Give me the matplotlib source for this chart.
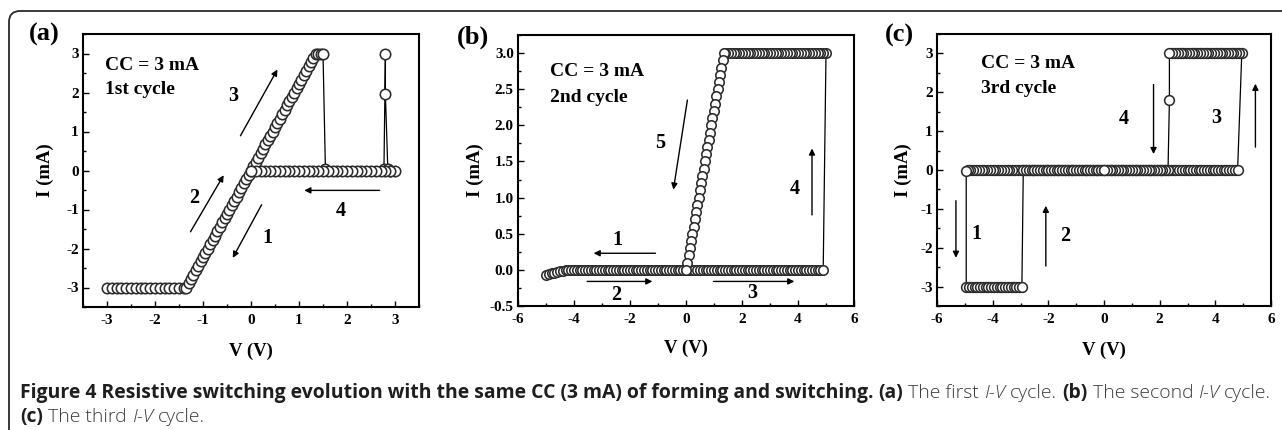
import matplotlib
matplotlib.use('Agg')
import matplotlib.pyplot as plt
from matplotlib.patches import FancyBboxPatch
from matplotlib.transforms import IdentityTransform
from matplotlib.ticker import MultipleLocator

# ---------------- data ----------------
# (a) 1st cycle, sweep order: negative branch, up-sweep with set/reset, back-sweep
va_neg = [-3.0, -2.9, -2.8, -2.7, -2.6, -2.5, -2.4, -2.3, -2.2, -2.1,
          -2.0, -1.9, -1.8, -1.7, -1.6, -1.5, -1.4,
          -1.35, -1.3, -1.25, -1.2, -1.15, -1.1, -1.05, -1.0, -0.95, -0.9,
          -0.85, -0.8, -0.75, -0.7, -0.65, -0.6, -0.55, -0.5, -0.45, -0.4,
          -0.35, -0.3, -0.25, -0.2, -0.15, -0.1, -0.05, 0.0]
ia_neg = [-3.0, -3.0, -3.0, -3.0, -3.0, -3.0, -3.0, -3.0, -3.0, -3.0,
          -3.0, -3.0, -3.0, -3.0, -3.0, -3.0, -3.0,
          -3.0, -2.89, -2.78, -2.67, -2.56, -2.44, -2.33, -2.22, -2.11, -2.0,
          -1.89, -1.78, -1.67, -1.56, -1.44, -1.33, -1.22, -1.11, -1.0, -0.89,
          -0.78, -0.67, -0.56, -0.44, -0.33, -0.22, -0.11, 0.0]
va_up = [0.05, 0.1, 0.15, 0.2, 0.25, 0.3, 0.35, 0.4, 0.45, 0.5,
         0.55, 0.6, 0.65, 0.7, 0.75, 0.8, 0.85, 0.9, 0.95, 1.0,
         1.05, 1.1, 1.15, 1.2, 1.25, 1.3, 1.35, 1.4, 1.45, 1.5,
         1.55, 2.77, 2.8, 2.8, 2.85, 2.9]
ia_up = [0.11, 0.22, 0.33, 0.44, 0.56, 0.67, 0.78, 0.89, 1.0, 1.11,
         1.22, 1.33, 1.44, 1.56, 1.67, 1.78, 1.89, 2.0, 2.11, 2.22,
         2.33, 2.44, 2.56, 2.67, 2.78, 2.89, 3.0, 3.0, 3.0, 3.0,
         0.05, 0.05, 3.0, 1.95, 0.05, 0.0]
va_back = [3.0, 2.9, 2.8, 2.7, 2.6, 2.5, 2.4, 2.3, 2.2, 2.1,
           2.0, 1.9, 1.8, 1.7, 1.6, 1.5, 1.4, 1.3, 1.2, 1.1,
           1.0, 0.9, 0.8, 0.7, 0.6, 0.5, 0.4, 0.3, 0.2, 0.1, 0.0]
ia_back = [0.0, 0.0, 0.0, 0.0, 0.0, 0.0, 0.0, 0.0, 0.0, 0.0,
           0.0, 0.0, 0.0, 0.0, 0.0, 0.0, 0.0, 0.0, 0.0, 0.0,
           0.0, 0.0, 0.0, 0.0, 0.0, 0.0, 0.0, 0.0, 0.0, 0.0, 0.0]

# (b) 2nd cycle
vb_neg = [-5.0, -4.9, -4.8, -4.7, -4.6, -4.5, -4.4, -4.3, -4.2, -4.1,
          -4.0, -3.9, -3.8, -3.7, -3.6, -3.5, -3.4, -3.3, -3.2, -3.1,
          -3.0, -2.9, -2.8, -2.7, -2.6, -2.5, -2.4, -2.3, -2.2, -2.1,
          -2.0, -1.9, -1.8, -1.7, -1.6, -1.5, -1.4, -1.3, -1.2, -1.1,
          -1.0, -0.9, -0.8, -0.7, -0.6, -0.5, -0.4, -0.3, -0.2, -0.1, 0.0]
ib_neg = [-0.07, -0.06, -0.05, -0.04, -0.03, -0.02, -0.01, 0.0, 0.0, 0.0,
          0.0, 0.0, 0.0, 0.0, 0.0, 0.0, 0.0, 0.0, 0.0, 0.0,
          0.0, 0.0, 0.0, 0.0, 0.0, 0.0, 0.0, 0.0, 0.0, 0.0,
          0.0, 0.0, 0.0, 0.0, 0.0, 0.0, 0.0, 0.0, 0.0, 0.0,
          0.0, 0.0, 0.0, 0.0, 0.0, 0.0, 0.0, 0.0, 0.0, 0.0, 0.0]
vb_pos = [0.1, 0.2, 0.3, 0.4, 0.5, 0.6, 0.7, 0.8, 0.9, 1.0,
          1.1, 1.2, 1.3, 1.4, 1.5, 1.6, 1.7, 1.8, 1.9, 2.0,
          2.1, 2.2, 2.3, 2.4, 2.5, 2.6, 2.7, 2.8, 2.9, 3.0,
          3.1, 3.2, 3.3, 3.4, 3.5, 3.6, 3.7, 3.8, 3.9, 4.0,
          4.1, 4.2, 4.3, 4.4, 4.5, 4.6, 4.7, 4.8, 4.9]
ib_pos = [0.0, 0.0, 0.0, 0.0, 0.0, 0.0, 0.0, 0.0, 0.0, 0.0,
          0.0, 0.0, 0.0, 0.0, 0.0, 0.0, 0.0, 0.0, 0.0, 0.0,
          0.0, 0.0, 0.0, 0.0, 0.0, 0.0, 0.0, 0.0, 0.0, 0.0,
          0.0, 0.0, 0.0, 0.0, 0.0, 0.0, 0.0, 0.0, 0.0, 0.0,
          0.0, 0.0, 0.0, 0.0, 0.0, 0.0, 0.0, 0.0, 0.0]
vb_top = [5.0, 4.9, 4.8, 4.7, 4.6, 4.5, 4.4, 4.3, 4.2, 4.1,
          4.0, 3.9, 3.8, 3.7, 3.6, 3.5, 3.4, 3.3, 3.2, 3.1,
          3.0, 2.9, 2.8, 2.7, 2.6, 2.5, 2.4, 2.3, 2.2, 2.1,
          2.0, 1.9, 1.8, 1.7, 1.6, 1.5, 1.4]
ib_top = [3.0, 3.0, 3.0, 3.0, 3.0, 3.0, 3.0, 3.0, 3.0, 3.0,
          3.0, 3.0, 3.0, 3.0, 3.0, 3.0, 3.0, 3.0, 3.0, 3.0,
          3.0, 3.0, 3.0, 3.0, 3.0, 3.0, 3.0, 3.0, 3.0, 3.0,
          3.0, 3.0, 3.0, 3.0, 3.0, 3.0, 3.0]
vb_diag = [1.35, 1.305, 1.26, 1.215, 1.17, 1.125, 1.08, 1.035, 0.99, 0.945,
           0.9, 0.855, 0.81, 0.765, 0.72, 0.675, 0.63, 0.585, 0.54, 0.495,
           0.45, 0.405, 0.36, 0.315, 0.27, 0.225, 0.18, 0.135, 0.09, 0.045, 0.0]
ib_diag = [3.0, 2.9, 2.8, 2.7, 2.6, 2.5, 2.4, 2.3, 2.2, 2.1,
           2.0, 1.9, 1.8, 1.7, 1.6, 1.5, 1.4, 1.3, 1.2, 1.1,
           1.0, 0.9, 0.8, 0.7, 0.6, 0.5, 0.4, 0.3, 0.2, 0.1, 0.0]

# (c) 3rd cycle
vc_s1 = [0.0, -0.1, -0.2, -0.3, -0.4, -0.5, -0.6, -0.7, -0.8, -0.9,
         -1.0, -1.1, -1.2, -1.3, -1.4, -1.5, -1.6, -1.7, -1.8, -1.9,
         -2.0, -2.1, -2.2, -2.3, -2.4, -2.5, -2.6, -2.7, -2.8, -2.9,
         -3.0, -3.1, -3.2, -3.3, -3.4, -3.5, -3.6, -3.7, -3.8, -3.9,
         -4.0, -4.1, -4.2, -4.3, -4.4, -4.5, -4.6, -4.7, -4.8, -4.9, -4.95]
ic_s1 = [0.0, 0.0, 0.0, 0.0, 0.0, 0.0, 0.0, 0.0, 0.0, 0.0,
         0.0, 0.0, 0.0, 0.0, 0.0, 0.0, 0.0, 0.0, 0.0, 0.0,
         0.0, 0.0, 0.0, 0.0, 0.0, 0.0, 0.0, 0.0, 0.0, 0.0,
         0.0, 0.0, 0.0, 0.0, 0.0, 0.0, 0.0, 0.0, 0.0, 0.0,
         0.0, 0.0, 0.0, 0.0, 0.0, 0.0, 0.0, 0.0, 0.0, 0.0, -0.03]
vc_low = [-4.95, -4.85, -4.75, -4.65, -4.55, -4.45, -4.35, -4.25, -4.15, -4.05,
          -3.95, -3.85, -3.75, -3.65, -3.55, -3.45, -3.35, -3.25, -3.15, -3.05, -2.95]
ic_low = [-3.0, -3.0, -3.0, -3.0, -3.0, -3.0, -3.0, -3.0, -3.0, -3.0,
          -3.0, -3.0, -3.0, -3.0, -3.0, -3.0, -3.0, -3.0, -3.0, -3.0, -3.0]
vc_s2 = [-2.9, -2.8, -2.7, -2.6, -2.5, -2.4, -2.3, -2.2, -2.1, -2.0,
         -1.9, -1.8, -1.7, -1.6, -1.5, -1.4, -1.3, -1.2, -1.1, -1.0,
         -0.9, -0.8, -0.7, -0.6, -0.5, -0.4, -0.3, -0.2, -0.1, 0.0]
ic_s2 = [0.0, 0.0, 0.0, 0.0, 0.0, 0.0, 0.0, 0.0, 0.0, 0.0,
         0.0, 0.0, 0.0, 0.0, 0.0, 0.0, 0.0, 0.0, 0.0, 0.0,
         0.0, 0.0, 0.0, 0.0, 0.0, 0.0, 0.0, 0.0, 0.0, 0.0]
vc_s3 = [0.1, 0.2, 0.3, 0.4, 0.5, 0.6, 0.7, 0.8, 0.9, 1.0,
         1.1, 1.2, 1.3, 1.4, 1.5, 1.6, 1.7, 1.8, 1.9, 2.0,
         2.1, 2.2, 2.3, 2.4, 2.5, 2.6, 2.7, 2.8, 2.9, 3.0,
         3.1, 3.2, 3.3, 3.4, 3.5, 3.6, 3.7, 3.8, 3.9, 4.0,
         4.1, 4.2, 4.3, 4.4, 4.5, 4.6, 4.7, 4.8]
ic_s3 = [0.0, 0.0, 0.0, 0.0, 0.0, 0.0, 0.0, 0.0, 0.0, 0.0,
         0.0, 0.0, 0.0, 0.0, 0.0, 0.0, 0.0, 0.0, 0.0, 0.0,
         0.0, 0.0, 0.0, 0.0, 0.0, 0.0, 0.0, 0.0, 0.0, 0.0,
         0.0, 0.0, 0.0, 0.0, 0.0, 0.0, 0.0, 0.0, 0.0, 0.0,
         0.0, 0.0, 0.0, 0.0, 0.0, 0.0, 0.0, 0.0]
vc_high = [4.95, 4.85, 4.75, 4.65, 4.55, 4.45, 4.35, 4.25, 4.15, 4.05,
           3.95, 3.85, 3.75, 3.65, 3.55, 3.45, 3.35, 3.25, 3.15, 3.05,
           2.95, 2.85, 2.75, 2.65, 2.55, 2.45, 2.35]
ic_high = [3.0, 3.0, 3.0, 3.0, 3.0, 3.0, 3.0, 3.0, 3.0, 3.0,
           3.0, 3.0, 3.0, 3.0, 3.0, 3.0, 3.0, 3.0, 3.0, 3.0,
           3.0, 3.0, 3.0, 3.0, 3.0, 3.0, 3.0]
vc_s4 = [2.35, 2.3, 2.2, 2.1, 2.0, 1.9, 1.8, 1.7, 1.6, 1.5, 1.4,
         1.3, 1.2, 1.1, 1.0, 0.9, 0.8, 0.7, 0.6, 0.5, 0.4, 0.3, 0.2, 0.1, 0.0]
ic_s4 = [1.8, 0.0, 0.0, 0.0, 0.0, 0.0, 0.0, 0.0, 0.0, 0.0, 0.0,
         0.0, 0.0, 0.0, 0.0, 0.0, 0.0, 0.0, 0.0, 0.0, 0.0, 0.0, 0.0, 0.0, 0.0]

# panel texts and sweep arrows (start, end, label, label position)
cycles = ['1st cycle', '2nd cycle', '3rd cycle']
arrows_a = [((-0.22, 0.89), (0.55, 2.59), '3', (-0.38, 1.92)),
            ((-1.26, -1.57), (-0.57, -0.12), '2', (-1.19, -0.71)),
            ((0.22, -0.88), (-0.38, -2.24), '1', (0.34, -1.74)),
            ((2.68, -0.51), (1.11, -0.51), '4', (1.87, -1.05))]
arrows_b = [((-1.09, 0.23), (-3.3, 0.23), '1', (-2.44, 0.41)),
            ((-3.53, -0.16), (-1.2, -0.16), '2', (-2.5, -0.35)),
            ((0.98, -0.16), (3.87, -0.16), '3', (2.38, -0.32)),
            ((4.5, 0.76), (4.5, 1.68), '4', (3.9, 1.12)),
            ((0.05, 2.35), (-0.45, 1.11), '5', (-0.93, 1.75))]
arrows_c = [((-5.32, -0.79), (-5.32, -2.26), '1', (-4.57, -1.65)),
            ((-2.09, -2.47), (-2.09, -0.92), '2', (-1.41, -1.7)),
            ((5.44, 0.59), (5.44, 2.22), '3', (4.05, 1.34)),
            ((1.78, 2.2), (1.78, 0.41), '4', (0.72, 1.32))]

SERIF = 'Liberation Serif'
CAP = ['Open Sans', 'DejaVu Sans']
plt.rcParams['font.family'] = SERIF
plt.rcParams['font.weight'] = 'bold'
plt.rcParams['axes.labelweight'] = 'bold'
plt.rcParams['axes.unicode_minus'] = False

W, H = 1282, 430
fig = plt.figure(figsize=(W / 100, H / 100), dpi=100)


def px_axes(l, t, r, b):
    return fig.add_axes([l / W, 1 - b / H, (r - l) / W, (b - t) / H])


def style(ax, xlim, ylim, xmaj, ymaj, ylab_x, xlab_y):
    ax.set_xlim(xlim)
    ax.set_ylim(ylim)
    ax.xaxis.set_major_locator(MultipleLocator(xmaj))
    ax.xaxis.set_minor_locator(MultipleLocator(xmaj / 2))
    ax.yaxis.set_major_locator(MultipleLocator(ymaj))
    ax.yaxis.set_minor_locator(MultipleLocator(ymaj / 2))
    ax.tick_params(which='both', direction='in', top=False, right=False,
                   width=1.0, labelsize=11, colors='black')
    ax.tick_params(which='major', length=4)
    ax.tick_params(which='minor', length=2.2)
    ax.tick_params(axis='x', pad=5)
    ax.tick_params(axis='y', pad=3)
    for sp in ax.spines.values():
        sp.set_linewidth(1.5)
    ax.set_xlabel('V (V)', fontsize=13.5)
    ax.set_ylabel('I (mA)', fontsize=13.5)
    ax.yaxis.set_label_coords(ylab_x, 0.5)
    ax.xaxis.set_label_coords(0.5, xlab_y)


def iv(ax, v, i, ms):
    ax.plot(v, i, '-o', color='black', lw=0.9, ms=ms, mfc='white',
            mec='#2c2c2c', mew=1.15)


def sweeps(ax, arrows, cycle, tx, ty):
    for start, end, lab, lpos in arrows:
        ax.annotate('', xy=end, xytext=start,
                    arrowprops=dict(arrowstyle='-|>', color='black', lw=1.0,
                                    mutation_scale=9, shrinkA=0, shrinkB=0))
        ax.text(lpos[0], lpos[1], lab, fontsize=14.5, ha='center', va='center')
    ax.text(tx, ty[0], 'CC = 3 mA', fontsize=14, ha='left', va='center')
    ax.text(tx, ty[1], cycle, fontsize=14, ha='left', va='center')


# (a)
ax1 = px_axes(83, 34, 419, 307)
iv(ax1, va_neg + va_up + va_back, ia_neg + ia_up + ia_back, 7.5)
style(ax1, (-3.5, 3.5), (-3.5, 3.5), 1, 1, -0.086, -0.132)
sweeps(ax1, arrows_a, cycles[0], -3.05, (2.7, 2.07))

# (b)
ax2 = px_axes(518, 35, 854, 306)
iv(ax2, vb_neg + vb_pos + vb_top + vb_diag, ib_neg + ib_pos + ib_top + ib_diag, 6.8)
style(ax2, (-6, 6), (-0.5, 3.25), 2, 0.5, -0.101, -0.125)
sweeps(ax2, arrows_b, cycles[1], -4.85, (2.74, 2.39))

# (c)
ax3 = px_axes(937, 34, 1271, 306)
iv(ax3, vc_s1 + vc_low + vc_s2 + vc_s3 + vc_high + vc_s4,
   ic_s1 + ic_low + ic_s2 + ic_s3 + ic_high + ic_s4, 7)
style(ax3, (-6, 6), (-3.5, 3.5), 2, 1, -0.075, -0.13)
sweeps(ax3, arrows_c, cycles[2], -4.43, (2.74, 2.09))

for lab, x, y in [('(a)', 44, 34), ('(b)', 473, 37), ('(c)', 899, 35)]:
    fig.text(x / W, 1 - y / H, lab, fontsize=19, ha='center', va='center')

# outer rounded frame
frame = FancyBboxPatch((9, -30), 1320, H - 11 + 30,
                       boxstyle='round,pad=0,rounding_size=11',
                       transform=IdentityTransform(), fill=False,
                       lw=1.3, ec='#2a2a2a')
fig.add_artist(frame)

# caption, written run by run
cap1 = [('Figure 4 Resistive switching evolution with the same CC (3 mA) of forming and switching.', 'bold', 'normal'),
        ('(a)', 'bold', 'normal'), ('The first', 'light', 'normal'), ('I-V', 'light', 'italic'),
        ('cycle.', 'light', 'normal'), ('(b)', 'bold', 'normal'), ('The second', 'light', 'normal'),
        ('I-V', 'light', 'italic'), ('cycle.', 'light', 'normal')]
cap2 = [('(c)', 'bold', 'normal'), ('The third', 'light', 'normal'),
        ('I-V', 'light', 'italic'), ('cycle.', 'light', 'normal')]

renderer = fig.canvas.get_renderer()


def caption(runs, x, y, fs):
    gap = fs * 100 / 72 * 0.26
    made = []
    for s, w, st in runs:
        t = fig.text(x, y, s, transform=IdentityTransform(), fontsize=fs,
                     family=CAP, weight=w, style=st, ha='left', va='center',
                     color='#1e1e1e' if w == 'bold' else '#3c3c3c')
        made.append(t)
        x = t.get_window_extent(renderer).x1 + gap
    return made, x - gap


# fit the first caption line to the width it takes in the figure
trial, end = caption(cap1, 20, H - 393, 10)
for t in trial:
    t.remove()
fs = 10 * (1273 - 20) / (end - 20)
caption(cap1, 20, H - 393, fs)
caption(cap2, 20, H - 417, fs)

fig.savefig('out.png', dpi=100)
